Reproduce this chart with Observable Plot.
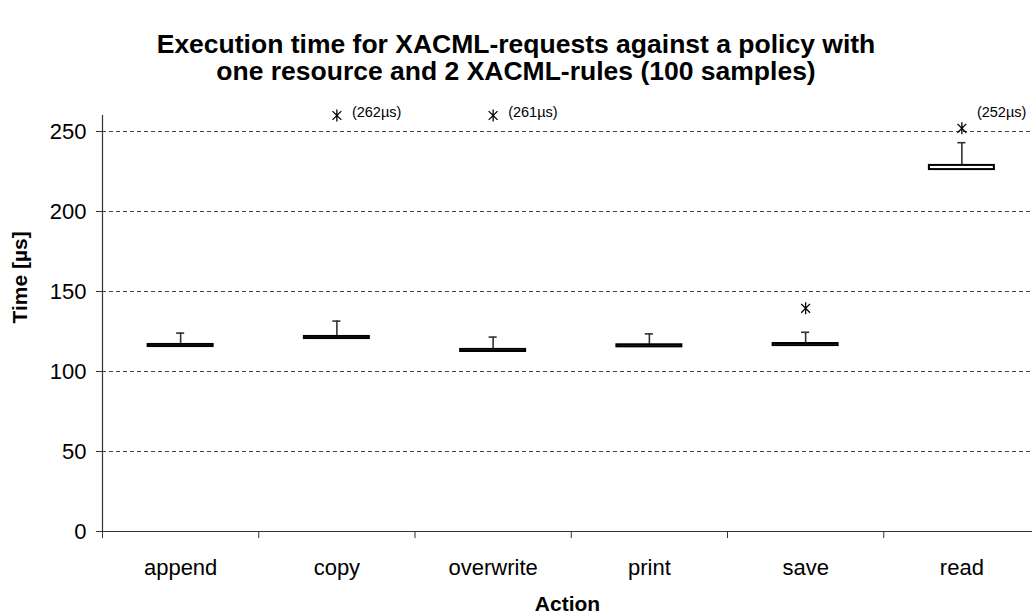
<!DOCTYPE html>
<html>
<head>
<meta charset="utf-8">
<script src="https://cdn.jsdelivr.net/npm/d3@7"></script>
<script src="https://cdn.jsdelivr.net/npm/@observablehq/plot@0.6"></script>
<style>
  html, body { margin: 0; padding: 0; background: white; overflow: hidden; }
  #title { width: 1032px; height: 90px; box-sizing: border-box; padding-top: 31px;
    text-align: center; font-family: "Liberation Sans", Arial, sans-serif; font-weight: bold;
    font-size: 26.5px; line-height: 27px; color: #000; }
  #chart svg { overflow: hidden; }
</style>
</head>
<body>
<div id="title">Execution time for XACML-requests against a policy with<br>one resource and 2 XACML-rules (100 samples)</div>
<div id="chart"></div>
<script>
// ---- data ----
const actions = ["append", "copy", "overwrite", "print", "save", "read"];
const q1 = [115.6, 120.6, 112.5, 115.4, 116.2, 226.2];
const q3 = [116.9, 121.9, 113.8, 116.7, 117.5, 228.8];
const whiskerHigh = [124, 131.5, 121.5, 123.5, 124.5, 243];
const outlierAction = ["copy", "overwrite", "save", "read"];
const outlierValue = [262, 261, 139.5, 252];
const outlierLabel = ["(262µs)", "(261µs)", "", "(252µs)"];
const yTicks = [0, 50, 100, 150, 200, 250];
const yMax = 260;

// ---- derived tables ----
const boxes = actions.map((a, i) => ({action: a, i, q1: q1[i], q3: q3[i], hi: whiskerHigh[i]}));
const outliers = outlierAction.map((a, k) => ({i: actions.indexOf(a), value: outlierValue[k], label: outlierLabel[k]}));
const boxHalf = 0.208, capHalf = 0.026;
const center = d => d.i + 0.5;
const boundaries = d3.range(0, actions.length + 1);
const labelPos = actions.map((a, i) => i + 0.5);

// star symbol: an X crossed by a vertical stroke
const starSymbol = {
  draw(context, size) {
    const r = Math.sqrt(size / Math.PI);
    const a = r * 0.8;
    context.moveTo(-a, -a); context.lineTo(a, a);
    context.moveTo(-a, a); context.lineTo(a, -a);
    context.moveTo(0, -r * 1.1); context.lineTo(0, r * 1.1);
  }
};

const W = 1032, H = 525, ML = 102, MT = 25, MB = 84;
const band = 156.25;

const chart = Plot.plot({
  width: W, height: H,
  marginLeft: ML, marginRight: 0, marginTop: MT, marginBottom: MB,
  style: {fontFamily: "'Liberation Sans', Arial, sans-serif", background: "white", color: "black", overflow: "hidden"},
  x: {domain: [0, actions.length], range: [ML, ML + band * actions.length]},
  y: {domain: [0, yMax]},
  marks: [
    Plot.ruleY(yTicks.filter(t => t > 0), {stroke: "#444", strokeWidth: 1, strokeDasharray: "4,3"}),
    Plot.ruleX(boxes, {x: center, y1: "q3", y2: "hi", stroke: "#333", strokeWidth: 1.6}),
    Plot.ruleY(boxes, {y: "hi", x1: d => center(d) - capHalf, x2: d => center(d) + capHalf, stroke: "#333", strokeWidth: 1.6}),
    Plot.rect(boxes, {x1: d => center(d) - boxHalf, x2: d => center(d) + boxHalf, y1: "q1", y2: "q3",
      fill: "white", stroke: "black", strokeWidth: 2}),
    Plot.dot(outliers, {x: center, y: d => Math.min(d.value, yMax), symbol: starSymbol, r: 5.5, stroke: "black", strokeWidth: 1.3}),
    Plot.text(outliers.filter(d => d.label), {x: center, y: () => yMax, text: "label", dx: 15, dy: -3,
      textAnchor: "start", fontSize: 14.5, fill: "black"}),
    Plot.ruleY([0], {stroke: "#333", strokeWidth: 1.2}),
    Plot.ruleX([0], {y1: 0, y2: yMax, stroke: "#333", strokeWidth: 1.2}),
    Plot.axisX(boundaries, {tickSize: 7, tickFormat: () => "", stroke: "#333", label: null}),
    Plot.axisX(labelPos, {tickSize: 0, tickPadding: 28, fontSize: 22, tickFormat: t => actions[Math.floor(t)], label: null, fill: "black"}),
    Plot.axisY(yTicks, {tickSize: 6, tickPadding: 10, fontSize: 22, label: null, stroke: "#333", fill: "black"}),
    Plot.text(["Action"], {frameAnchor: "bottom", dy: 79, fontSize: 21, fontWeight: "bold", fill: "black"}),
    Plot.text(["Time [µs]"], {frameAnchor: "left", dx: -82, rotate: -90, fontSize: 21, fontWeight: "bold", fill: "black"})
  ]
});
document.getElementById("chart").appendChild(chart);
</script>
</body>
</html>
